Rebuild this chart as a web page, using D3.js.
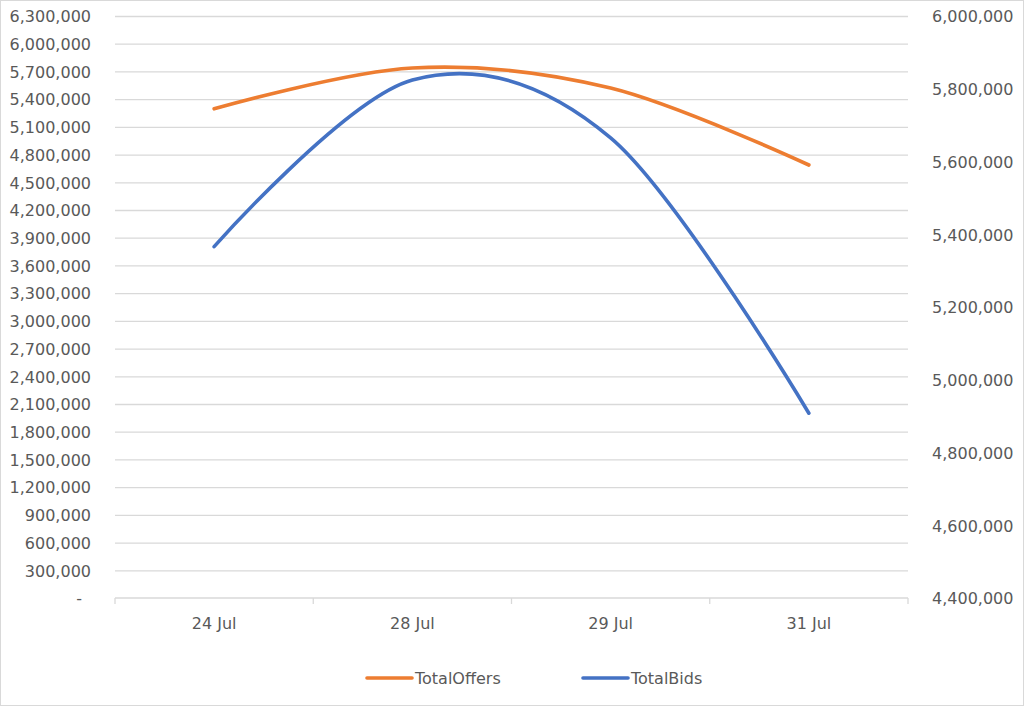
<!DOCTYPE html>
<html>
<head>
<meta charset="utf-8">
<script src="https://cdn.jsdelivr.net/npm/d3@7"></script>
<style>
  html, body { margin: 0; padding: 0; background: #fff; }
  svg { display: block; }
  .axis text { fill: #595959; font-size: 16px; font-family: "DejaVu Sans", sans-serif; }
</style>
</head>
<body>
<svg id="chart" width="1024" height="706"></svg>
<script>
'use strict';

// data
var categories  = ['24 Jul', '28 Jul', '29 Jul', '31 Jul']
  , totalOffers = [5295000, 5737000, 5520000, 4687000]   // left axis
  , totalBids   = [5366000, 5824000, 5665000, 4908000]   // right axis
  , leftTicks   = [0, 300000, 600000, 900000, 1200000, 1500000, 1800000, 2100000,
                   2400000, 2700000, 3000000, 3300000, 3600000, 3900000, 4200000,
                   4500000, 4800000, 5100000, 5400000, 5700000, 6000000, 6300000]
  , rightTicks  = [4400000, 4600000, 4800000, 5000000, 5200000, 5400000,
                   5600000, 5800000, 6000000]
  , seriesNames = ['TotalOffers', 'TotalBids'];

var W = 1024, H = 706
  , plot = { left: 115, right: 908, top: 16, bottom: 598 }
  , colors = { offers: '#ED7D31', bids: '#4472C4', grid: '#d9d9d9' };

var svg = d3.select('#chart');

// outer border
svg.append('rect')
   .attr('x', 0.5).attr('y', 0.5)
   .attr('width', W - 1).attr('height', H - 1)
   .attr('fill', '#fff')
   .attr('stroke', colors.grid);

var x = d3.scaleBand()
          .domain(categories)
          .range([plot.left, plot.right]);

var yLeft = d3.scaleLinear()
              .domain([0, 6300000])
              .range([plot.bottom, plot.top]);

var yRight = d3.scaleLinear()
               .domain([4400000, 6000000])
               .range([plot.bottom, plot.top]);

var fmt = d3.format(',');

function cx(c){ return x(c) + x.bandwidth() / 2; }

// gridlines (from left axis)
svg.append('g')
   .attr('class', 'grid')
   .attr('transform', 'translate(' + plot.left + ',0)')
   .call(d3.axisLeft(yLeft)
           .tickValues(leftTicks.filter(function(d){ return d > 0; }))
           .tickSize(-(plot.right - plot.left))
           .tickFormat(''))
   .call(function(g){
     g.select('.domain').remove();
     g.selectAll('line').attr('stroke', colors.grid).attr('stroke-width', 1.3);
   });

// left axis labels
svg.append('g')
   .attr('class', 'axis')
   .attr('transform', 'translate(' + (plot.left - 24) + ',0)')
   .call(d3.axisLeft(yLeft)
           .tickValues(leftTicks)
           .tickSize(0)
           .tickPadding(0)
           .tickFormat(function(d){ return d === 0 ? '-' : fmt(d); }))
   .call(function(g){
     g.select('.domain').remove();
     g.selectAll('text')
      .attr('dy', '0.36em')
      .filter(function(d){ return d === 0; })
      .attr('dx', -9);
   });

// right axis labels
svg.append('g')
   .attr('class', 'axis')
   .attr('transform', 'translate(' + (plot.right + 24) + ',0)')
   .call(d3.axisRight(yRight)
           .tickValues(rightTicks)
           .tickSize(0)
           .tickPadding(0)
           .tickFormat(fmt))
   .call(function(g){
     g.select('.domain').remove();
     g.selectAll('text').attr('dy', '0.36em');
   });

// category axis
var xAxis = svg.append('g')
   .attr('class', 'axis')
   .attr('transform', 'translate(0,' + plot.bottom + ')')
   .call(d3.axisBottom(x).tickSize(0).tickPadding(0))
   .call(function(g){
     g.select('.domain').remove();
     g.selectAll('text').attr('y', 31).attr('dy', 0);
   });

xAxis.append('line')
     .attr('x1', plot.left).attr('x2', plot.right)
     .attr('stroke', colors.grid).attr('stroke-width', 1.3);

var bounds = categories.map(function(c){ return x(c); }).concat([plot.right]);
xAxis.selectAll('line.cat-tick')
     .data(bounds)
   .enter().append('line')
     .attr('class', 'cat-tick')
     .attr('x1', function(d){ return d; }).attr('x2', function(d){ return d; })
     .attr('y1', 0).attr('y2', 6)
     .attr('stroke', colors.grid).attr('stroke-width', 1.3);

// smoothed lines, Excel style
var curve = d3.curveCardinal.tension(0);

function drawSeries(values, scale, color){
  var line = d3.line()
               .x(function(d, i){ return cx(categories[i]); })
               .y(function(d){ return scale(d); })
               .curve(curve);
  svg.append('path')
     .datum(values)
     .attr('d', line)
     .attr('fill', 'none')
     .attr('stroke', color)
     .attr('stroke-width', 3.6)
     .attr('stroke-linecap', 'round')
     .attr('stroke-linejoin', 'round');
}

drawSeries(totalOffers, yLeft, colors.offers);
drawSeries(totalBids, yRight, colors.bids);

// legend
var legend = svg.append('g')
   .attr('class', 'axis')
   .attr('transform', 'translate(0,678)');

var items = legend.selectAll('g')
   .data([{ name: seriesNames[0], color: colors.offers, x: 367 },
          { name: seriesNames[1], color: colors.bids,   x: 583 }])
 .enter().append('g')
   .attr('transform', function(d){ return 'translate(' + d.x + ',0)'; });

items.append('line')
     .attr('x1', 0).attr('x2', 45)
     .attr('stroke', function(d){ return d.color; })
     .attr('stroke-width', 3.6)
     .attr('stroke-linecap', 'round');

items.append('text')
     .attr('x', 48)
     .attr('dy', '0.36em')
     .text(function(d){ return d.name; });
</script>
</body>
</html>
